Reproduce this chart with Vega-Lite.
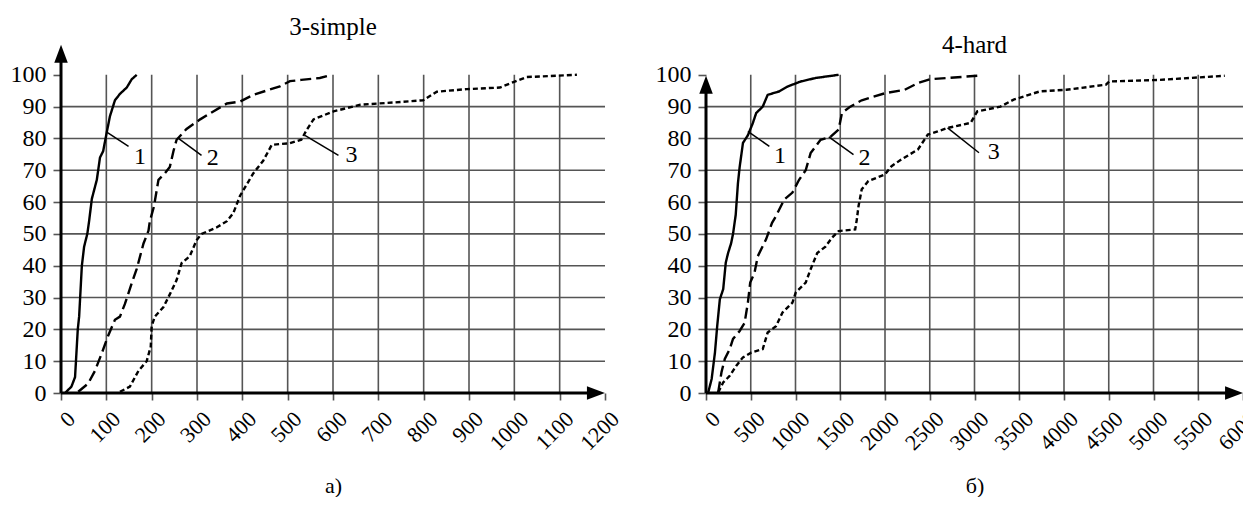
{
  "$schema": "https://vega.github.io/schema/vega-lite/v6.json",
  "padding": {"left": 10, "top": 15, "right": 0, "bottom": 0},
  "bounds": "flush",
  "spacing": 101,
  "background": "white",
  "config": {
    "view": {"stroke": null},
    "font": "Liberation Serif, Times New Roman, Tinos, DejaVu Serif, serif",
    "axisX": {"labelFont": "Liberation Serif, Times New Roman, Tinos, DejaVu Serif, serif", "labelFontSize": 22, "labelColor": "black", "labelAngle": -45, "labelAlign": "right", "labelBaseline": "middle", "labelPadding": 15, "labelOffset": 10, "labelFlush": false, "labelOverlap": false, "labelBound": false,
      "domain": false, "grid": false, "ticks": true, "tickColor": "#555555", "tickSize": 7, "tickWidth": 1.6,
      "titleFont": "Liberation Serif, Times New Roman, Tinos, DejaVu Serif, serif", "titleFontSize": 22, "titleFontWeight": "normal", "titleColor": "black", "titlePadding": 22},
    "axisY": {"labelFont": "Liberation Serif, Times New Roman, Tinos, DejaVu Serif, serif", "labelFontSize": 24, "labelColor": "black", "labelPadding": 7, "labelOverlap": false, "labelBound": false, "labelFlush": false,
      "domain": false, "grid": false, "ticks": true, "tickColor": "#555555", "tickSize": 8, "tickWidth": 1.6}
  },
  "datasets": {
    "a": [
      {"s":"1","x":9,"y":0},{"s":"1","x":23,"y":2},{"s":"1","x":31,"y":5},{"s":"1","x":33,"y":10},{"s":"1","x":37,"y":20},{"s":"1","x":40,"y":24},{"s":"1","x":43,"y":32},{"s":"1","x":46,"y":40},{"s":"1","x":51,"y":46},{"s":"1","x":58,"y":50},{"s":"1","x":62,"y":54},{"s":"1","x":68,"y":61},{"s":"1","x":79,"y":67},{"s":"1","x":86,"y":74},{"s":"1","x":93,"y":76},{"s":"1","x":101,"y":82},{"s":"1","x":108,"y":87},{"s":"1","x":119,"y":92},{"s":"1","x":130,"y":94},{"s":"1","x":145,"y":96},{"s":"1","x":156,"y":98.6},{"s":"1","x":167,"y":100},
      {"s":"2","x":38,"y":0.4},{"s":"2","x":60,"y":3},{"s":"2","x":75,"y":7},{"s":"2","x":90,"y":12.5},{"s":"2","x":104,"y":18},{"s":"2","x":119,"y":23},{"s":"2","x":130,"y":24},{"s":"2","x":141,"y":28},{"s":"2","x":156,"y":34.5},{"s":"2","x":167,"y":39},{"s":"2","x":182,"y":47},{"s":"2","x":193,"y":51},{"s":"2","x":196,"y":54},{"s":"2","x":205,"y":58.6},{"s":"2","x":215,"y":67},{"s":"2","x":229,"y":69},{"s":"2","x":240,"y":71},{"s":"2","x":248,"y":76},{"s":"2","x":255,"y":79.6},{"s":"2","x":277,"y":83},{"s":"2","x":307,"y":86},{"s":"2","x":336,"y":88.5},{"s":"2","x":366,"y":91},{"s":"2","x":395,"y":91.6},{"s":"2","x":424,"y":93.7},{"s":"2","x":483,"y":96.4},{"s":"2","x":505,"y":98},{"s":"2","x":530,"y":98.4},{"s":"2","x":571,"y":99},{"s":"2","x":597,"y":100},
      {"s":"3","x":130,"y":0.4},{"s":"3","x":152,"y":2},{"s":"3","x":171,"y":7},{"s":"3","x":189,"y":10},{"s":"3","x":198,"y":14.6},{"s":"3","x":200,"y":21},{"s":"3","x":207,"y":24},{"s":"3","x":226,"y":27},{"s":"3","x":240,"y":31},{"s":"3","x":255,"y":35.5},{"s":"3","x":266,"y":40.8},{"s":"3","x":284,"y":43},{"s":"3","x":299,"y":48},{"s":"3","x":310,"y":50},{"s":"3","x":343,"y":52},{"s":"3","x":366,"y":54},{"s":"3","x":380,"y":56.5},{"s":"3","x":395,"y":62},{"s":"3","x":424,"y":69},{"s":"3","x":446,"y":73},{"s":"3","x":465,"y":78},{"s":"3","x":505,"y":78.5},{"s":"3","x":530,"y":79.6},{"s":"3","x":542,"y":82.7},{"s":"3","x":557,"y":86},{"s":"3","x":601,"y":88.5},{"s":"3","x":660,"y":90.6},{"s":"3","x":733,"y":91.3},{"s":"3","x":799,"y":92},{"s":"3","x":829,"y":94.7},{"s":"3","x":895,"y":95.5},{"s":"3","x":968,"y":96},{"s":"3","x":998,"y":97.7},{"s":"3","x":1027,"y":99.3},{"s":"3","x":1138,"y":100}
    ],
    "b": [
      {"s":"1","x":25,"y":0.2},{"s":"1","x":63,"y":4.4},{"s":"1","x":100,"y":12.7},{"s":"1","x":125,"y":21},{"s":"1","x":155,"y":29.5},{"s":"1","x":192,"y":32.6},{"s":"1","x":221,"y":41},{"s":"1","x":247,"y":44},{"s":"1","x":280,"y":47},{"s":"1","x":302,"y":50},{"s":"1","x":332,"y":56},{"s":"1","x":357,"y":66},{"s":"1","x":376,"y":71},{"s":"1","x":413,"y":78.6},{"s":"1","x":468,"y":81},{"s":"1","x":523,"y":84.8},{"s":"1","x":561,"y":88},{"s":"1","x":634,"y":90},{"s":"1","x":689,"y":93.7},{"s":"1","x":819,"y":94.8},{"s":"1","x":910,"y":96.3},{"s":"1","x":1058,"y":97.9},{"s":"1","x":1224,"y":99},{"s":"1","x":1482,"y":100},
      {"s":"2","x":136,"y":0.2},{"s":"2","x":173,"y":6.5},{"s":"2","x":210,"y":10.7},{"s":"2","x":265,"y":13.8},{"s":"2","x":302,"y":17},{"s":"2","x":376,"y":19.5},{"s":"2","x":431,"y":22},{"s":"2","x":468,"y":28.4},{"s":"2","x":494,"y":34.7},{"s":"2","x":542,"y":37.8},{"s":"2","x":579,"y":43},{"s":"2","x":671,"y":48.3},{"s":"2","x":738,"y":53.5},{"s":"2","x":782,"y":55.6},{"s":"2","x":874,"y":60.8},{"s":"2","x":966,"y":63},{"s":"2","x":1040,"y":67},{"s":"2","x":1114,"y":70},{"s":"2","x":1169,"y":75.4},{"s":"2","x":1280,"y":79.6},{"s":"2","x":1390,"y":80.5},{"s":"2","x":1482,"y":82.8},{"s":"2","x":1519,"y":88},{"s":"2","x":1612,"y":90},{"s":"2","x":1740,"y":92},{"s":"2","x":1999,"y":94.2},{"s":"2","x":2220,"y":95.3},{"s":"2","x":2367,"y":97.4},{"s":"2","x":2500,"y":98.6},{"s":"2","x":3031,"y":99.7},
      {"s":"3","x":136,"y":0.2},{"s":"3","x":192,"y":3.3},{"s":"3","x":265,"y":5.4},{"s":"3","x":339,"y":8.6},{"s":"3","x":413,"y":11.2},{"s":"3","x":505,"y":12.7},{"s":"3","x":634,"y":13.8},{"s":"3","x":689,"y":19},{"s":"3","x":782,"y":21},{"s":"3","x":855,"y":25.3},{"s":"3","x":966,"y":28.4},{"s":"3","x":1003,"y":31.6},{"s":"3","x":1114,"y":34.7},{"s":"3","x":1169,"y":38.9},{"s":"3","x":1243,"y":44},{"s":"3","x":1335,"y":46},{"s":"3","x":1408,"y":48.8},{"s":"3","x":1482,"y":50.9},{"s":"3","x":1667,"y":51.4},{"s":"3","x":1685,"y":54.5},{"s":"3","x":1704,"y":58.7},{"s":"3","x":1740,"y":64},{"s":"3","x":1814,"y":66.6},{"s":"3","x":1999,"y":68.7},{"s":"3","x":2073,"y":71.3},{"s":"3","x":2183,"y":73.4},{"s":"3","x":2367,"y":76.5},{"s":"3","x":2478,"y":81.2},{"s":"3","x":2588,"y":82.2},{"s":"3","x":2699,"y":83.3},{"s":"3","x":2957,"y":84.9},{"s":"3","x":3031,"y":88.5},{"s":"3","x":3289,"y":90},{"s":"3","x":3437,"y":92.2},{"s":"3","x":3731,"y":94.8},{"s":"3","x":4027,"y":95.3},{"s":"3","x":4469,"y":96.9},{"s":"3","x":4506,"y":97.9},{"s":"3","x":5059,"y":98.4},{"s":"3","x":5796,"y":99.7}
    ],
    "la": [
      {"s":"1","x1":101,"y1":82,"x2":149,"y2":77.5,"tx":174,"ty":74.3},
      {"s":"2","x1":259,"y1":80,"x2":310,"y2":74.7,"tx":335,"ty":73.8},
      {"s":"3","x1":538,"y1":81,"x2":612,"y2":74.7,"tx":641,"ty":74.8}
    ],
    "lb": [
      {"s":"1","x1":468,"y1":82.2,"x2":708,"y2":77.5,"tx":826,"ty":74.4},
      {"s":"2","x1":1372,"y1":80.5,"x2":1648,"y2":74.9,"tx":1770,"ty":73.9},
      {"s":"3","x1":2699,"y1":83.3,"x2":3050,"y2":75.5,"tx":3216,"ty":75.6}
    ]
  },
  "hconcat": [
    {
      "width": 544,
      "height": 350,
      "title": {"text": "3-simple", "font": "Liberation Serif, Times New Roman, Tinos, DejaVu Serif, serif", "fontSize": 25, "fontWeight": "normal", "color": "black", "offset": 3, "anchor": "middle"},
      "layer": [
        {
          "data": {"values": [{"g":100},{"g":200},{"g":300},{"g":400},{"g":500},{"g":600},{"g":700},{"g":800},{"g":900},{"g":1000},{"g":1100}]},
          "mark": {"type": "rule", "color": "#555555", "strokeWidth": 1.6},
          "encoding": {
            "x": {"field": "g", "type": "quantitative", "scale": {"domain": [0, 1200], "nice": false}, "axis": {"values": [0,100,200,300,400,500,600,700,800,900,1000,1100,1200], "format": "d", "title": "а)"}},
            "y": {"datum": 0, "type": "quantitative", "scale": {"domain": [0, 110], "nice": false}, "axis": {"values": [0,10,20,30,40,50,60,70,80,90,100], "title": null}},
            "y2": {"datum": 100}
          }
        },
        {
          "data": {"values": [{"g":10},{"g":20},{"g":30},{"g":40},{"g":50},{"g":60},{"g":70},{"g":80},{"g":90}]},
          "mark": {"type": "rule", "color": "#555555", "strokeWidth": 1.6},
          "encoding": {
            "y": {"field": "g", "type": "quantitative", "scale": {"domain": [0, 110], "nice": false}, "axis": {"values": [0,10,20,30,40,50,60,70,80,90,100], "title": null}},
            "x": {"datum": 0, "type": "quantitative", "scale": {"domain": [0, 1200], "nice": false}, "axis": {"values": [0,100,200,300,400,500,600,700,800,900,1000,1100,1200], "format": "d", "title": "а)"}},
            "x2": {"datum": 1200}
          }
        },
        {
          "data": {"name": "a"},
          "mark": {"type": "line", "color": "black", "strokeWidth": 2.4},
          "encoding": {
            "x": {"field": "x", "type": "quantitative", "scale": {"domain": [0, 1200], "nice": false}, "axis": {"values": [0,100,200,300,400,500,600,700,800,900,1000,1100,1200], "format": "d", "title": "а)"}},
            "y": {"field": "y", "type": "quantitative", "scale": {"domain": [0, 110], "nice": false}, "axis": {"values": [0,10,20,30,40,50,60,70,80,90,100], "title": null}},
            "detail": {"field": "s"},
            "strokeDash": {"field": "s", "type": "nominal", "scale": {"domain": ["1","2","3"], "range": [[1,0],[11,5],[5,3]]}, "legend": null}
          }
        },
        {
          "data": {"name": "la"},
          "mark": {"type": "rule", "color": "black", "strokeWidth": 1.5},
          "encoding": {
            "x": {"field": "x1", "type": "quantitative", "scale": {"domain": [0, 1200], "nice": false}, "axis": {"values": [0,100,200,300,400,500,600,700,800,900,1000,1100,1200], "format": "d", "title": "а)"}},
            "y": {"field": "y1", "type": "quantitative", "scale": {"domain": [0, 110], "nice": false}, "axis": {"values": [0,10,20,30,40,50,60,70,80,90,100], "title": null}},
            "x2": {"field": "x2"},
            "y2": {"field": "y2"}
          }
        },
        {
          "data": {"name": "la"},
          "mark": {"type": "text", "font": "Liberation Serif, Times New Roman, Tinos, DejaVu Serif, serif", "fontSize": 24, "color": "black", "align": "center", "baseline": "middle"},
          "encoding": {
            "x": {"field": "tx", "type": "quantitative", "scale": {"domain": [0, 1200], "nice": false}, "axis": {"values": [0,100,200,300,400,500,600,700,800,900,1000,1100,1200], "format": "d", "title": "а)"}},
            "y": {"field": "ty", "type": "quantitative", "scale": {"domain": [0, 110], "nice": false}, "axis": {"values": [0,10,20,30,40,50,60,70,80,90,100], "title": null}},
            "text": {"field": "s"}
          }
        },
        {
          "data": {"values": [{}]},
          "mark": {"type": "rule", "color": "black", "strokeWidth": 3},
          "encoding": {
            "x": {"datum": 0, "type": "quantitative", "scale": {"domain": [0, 1200], "nice": false}, "axis": {"values": [0,100,200,300,400,500,600,700,800,900,1000,1100,1200], "format": "d", "title": "а)"}},
            "x2": {"datum": 1180},
            "y": {"datum": 0, "type": "quantitative", "scale": {"domain": [0, 110], "nice": false}, "axis": {"values": [0,10,20,30,40,50,60,70,80,90,100], "title": null}}
          }
        },
        {
          "data": {"values": [{}]},
          "mark": {"type": "rule", "color": "black", "strokeWidth": 3},
          "encoding": {
            "x": {"datum": 0, "type": "quantitative", "scale": {"domain": [0, 1200], "nice": false}, "axis": {"values": [0,100,200,300,400,500,600,700,800,900,1000,1100,1200], "format": "d", "title": "а)"}},
            "y": {"datum": 0, "type": "quantitative", "scale": {"domain": [0, 110], "nice": false}, "axis": {"values": [0,10,20,30,40,50,60,70,80,90,100], "title": null}},
            "y2": {"datum": 106.6}
          }
        },
        {
          "data": {"values": [{}]},
          "mark": {"type": "point", "shape": "M -1 -0.75 L 1 0 L -1 0.75 Z", "filled": true, "color": "black", "size": 324, "opacity": 1},
          "encoding": {
            "x": {"datum": 1180, "type": "quantitative", "scale": {"domain": [0, 1200], "nice": false}, "axis": {"values": [0,100,200,300,400,500,600,700,800,900,1000,1100,1200], "format": "d", "title": "а)"}},
            "y": {"datum": 0, "type": "quantitative", "scale": {"domain": [0, 110], "nice": false}, "axis": {"values": [0,10,20,30,40,50,60,70,80,90,100], "title": null}}
          }
        },
        {
          "data": {"values": [{}]},
          "mark": {"type": "point", "shape": "M -0.75 1 L 0 -1 L 0.75 1 Z", "filled": true, "color": "black", "size": 324, "opacity": 1},
          "encoding": {
            "x": {"datum": 0, "type": "quantitative", "scale": {"domain": [0, 1200], "nice": false}, "axis": {"values": [0,100,200,300,400,500,600,700,800,900,1000,1100,1200], "format": "d", "title": "а)"}},
            "y": {"datum": 106.6, "type": "quantitative", "scale": {"domain": [0, 110], "nice": false}, "axis": {"values": [0,10,20,30,40,50,60,70,80,90,100], "title": null}}
          }
        }
      ]
    },
    {
      "width": 537,
      "height": 350,
      "title": {"text": "4-hard", "font": "Liberation Serif, Times New Roman, Tinos, DejaVu Serif, serif", "fontSize": 25, "fontWeight": "normal", "color": "black", "offset": -15, "anchor": "middle"},
      "layer": [
        {
          "data": {"values": [{"g":500},{"g":1000},{"g":1500},{"g":2000},{"g":2500},{"g":3000},{"g":3500},{"g":4000},{"g":4500},{"g":5000},{"g":5500}]},
          "mark": {"type": "rule", "color": "#555555", "strokeWidth": 1.6},
          "encoding": {
            "x": {"field": "g", "type": "quantitative", "scale": {"domain": [0, 6000], "nice": false}, "axis": {"values": [0,500,1000,1500,2000,2500,3000,3500,4000,4500,5000,5500,6000], "format": "d", "title": "б)"}},
            "y": {"datum": 0, "type": "quantitative", "scale": {"domain": [0, 110], "nice": false}, "axis": {"values": [0,10,20,30,40,50,60,70,80,90,100], "title": null}},
            "y2": {"datum": 100}
          }
        },
        {
          "data": {"values": [{"g":10},{"g":20},{"g":30},{"g":40},{"g":50},{"g":60},{"g":70},{"g":80},{"g":90}]},
          "mark": {"type": "rule", "color": "#555555", "strokeWidth": 1.6},
          "encoding": {
            "y": {"field": "g", "type": "quantitative", "scale": {"domain": [0, 110], "nice": false}, "axis": {"values": [0,10,20,30,40,50,60,70,80,90,100], "title": null}},
            "x": {"datum": 0, "type": "quantitative", "scale": {"domain": [0, 6000], "nice": false}, "axis": {"values": [0,500,1000,1500,2000,2500,3000,3500,4000,4500,5000,5500,6000], "format": "d", "title": "б)"}},
            "x2": {"datum": 6000}
          }
        },
        {
          "data": {"name": "b"},
          "mark": {"type": "line", "color": "black", "strokeWidth": 2.4},
          "encoding": {
            "x": {"field": "x", "type": "quantitative", "scale": {"domain": [0, 6000], "nice": false}, "axis": {"values": [0,500,1000,1500,2000,2500,3000,3500,4000,4500,5000,5500,6000], "format": "d", "title": "б)"}},
            "y": {"field": "y", "type": "quantitative", "scale": {"domain": [0, 110], "nice": false}, "axis": {"values": [0,10,20,30,40,50,60,70,80,90,100], "title": null}},
            "detail": {"field": "s"},
            "strokeDash": {"field": "s", "type": "nominal", "scale": {"domain": ["1","2","3"], "range": [[1,0],[11,5],[5,3]]}, "legend": null}
          }
        },
        {
          "data": {"name": "lb"},
          "mark": {"type": "rule", "color": "black", "strokeWidth": 1.5},
          "encoding": {
            "x": {"field": "x1", "type": "quantitative", "scale": {"domain": [0, 6000], "nice": false}, "axis": {"values": [0,500,1000,1500,2000,2500,3000,3500,4000,4500,5000,5500,6000], "format": "d", "title": "б)"}},
            "y": {"field": "y1", "type": "quantitative", "scale": {"domain": [0, 110], "nice": false}, "axis": {"values": [0,10,20,30,40,50,60,70,80,90,100], "title": null}},
            "x2": {"field": "x2"},
            "y2": {"field": "y2"}
          }
        },
        {
          "data": {"name": "lb"},
          "mark": {"type": "text", "font": "Liberation Serif, Times New Roman, Tinos, DejaVu Serif, serif", "fontSize": 24, "color": "black", "align": "center", "baseline": "middle"},
          "encoding": {
            "x": {"field": "tx", "type": "quantitative", "scale": {"domain": [0, 6000], "nice": false}, "axis": {"values": [0,500,1000,1500,2000,2500,3000,3500,4000,4500,5000,5500,6000], "format": "d", "title": "б)"}},
            "y": {"field": "ty", "type": "quantitative", "scale": {"domain": [0, 110], "nice": false}, "axis": {"values": [0,10,20,30,40,50,60,70,80,90,100], "title": null}},
            "text": {"field": "s"}
          }
        },
        {
          "data": {"values": [{}]},
          "mark": {"type": "rule", "color": "black", "strokeWidth": 3},
          "encoding": {
            "x": {"datum": 0, "type": "quantitative", "scale": {"domain": [0, 6000], "nice": false}, "axis": {"values": [0,500,1000,1500,2000,2500,3000,3500,4000,4500,5000,5500,6000], "format": "d", "title": "б)"}},
            "x2": {"datum": 5900},
            "y": {"datum": 0, "type": "quantitative", "scale": {"domain": [0, 110], "nice": false}, "axis": {"values": [0,10,20,30,40,50,60,70,80,90,100], "title": null}}
          }
        },
        {
          "data": {"values": [{}]},
          "mark": {"type": "rule", "color": "black", "strokeWidth": 3},
          "encoding": {
            "x": {"datum": 0, "type": "quantitative", "scale": {"domain": [0, 6000], "nice": false}, "axis": {"values": [0,500,1000,1500,2000,2500,3000,3500,4000,4500,5000,5500,6000], "format": "d", "title": "б)"}},
            "y": {"datum": 0, "type": "quantitative", "scale": {"domain": [0, 110], "nice": false}, "axis": {"values": [0,10,20,30,40,50,60,70,80,90,100], "title": null}},
            "y2": {"datum": 96.9}
          }
        },
        {
          "data": {"values": [{}]},
          "mark": {"type": "point", "shape": "M -1 -0.75 L 1 0 L -1 0.75 Z", "filled": true, "color": "black", "size": 324, "opacity": 1},
          "encoding": {
            "x": {"datum": 5900, "type": "quantitative", "scale": {"domain": [0, 6000], "nice": false}, "axis": {"values": [0,500,1000,1500,2000,2500,3000,3500,4000,4500,5000,5500,6000], "format": "d", "title": "б)"}},
            "y": {"datum": 0, "type": "quantitative", "scale": {"domain": [0, 110], "nice": false}, "axis": {"values": [0,10,20,30,40,50,60,70,80,90,100], "title": null}}
          }
        },
        {
          "data": {"values": [{}]},
          "mark": {"type": "point", "shape": "M -0.75 1 L 0 -1 L 0.75 1 Z", "filled": true, "color": "black", "size": 324, "opacity": 1},
          "encoding": {
            "x": {"datum": 0, "type": "quantitative", "scale": {"domain": [0, 6000], "nice": false}, "axis": {"values": [0,500,1000,1500,2000,2500,3000,3500,4000,4500,5000,5500,6000], "format": "d", "title": "б)"}},
            "y": {"datum": 96.9, "type": "quantitative", "scale": {"domain": [0, 110], "nice": false}, "axis": {"values": [0,10,20,30,40,50,60,70,80,90,100], "title": null}}
          }
        }
      ]
    }
  ]
}
